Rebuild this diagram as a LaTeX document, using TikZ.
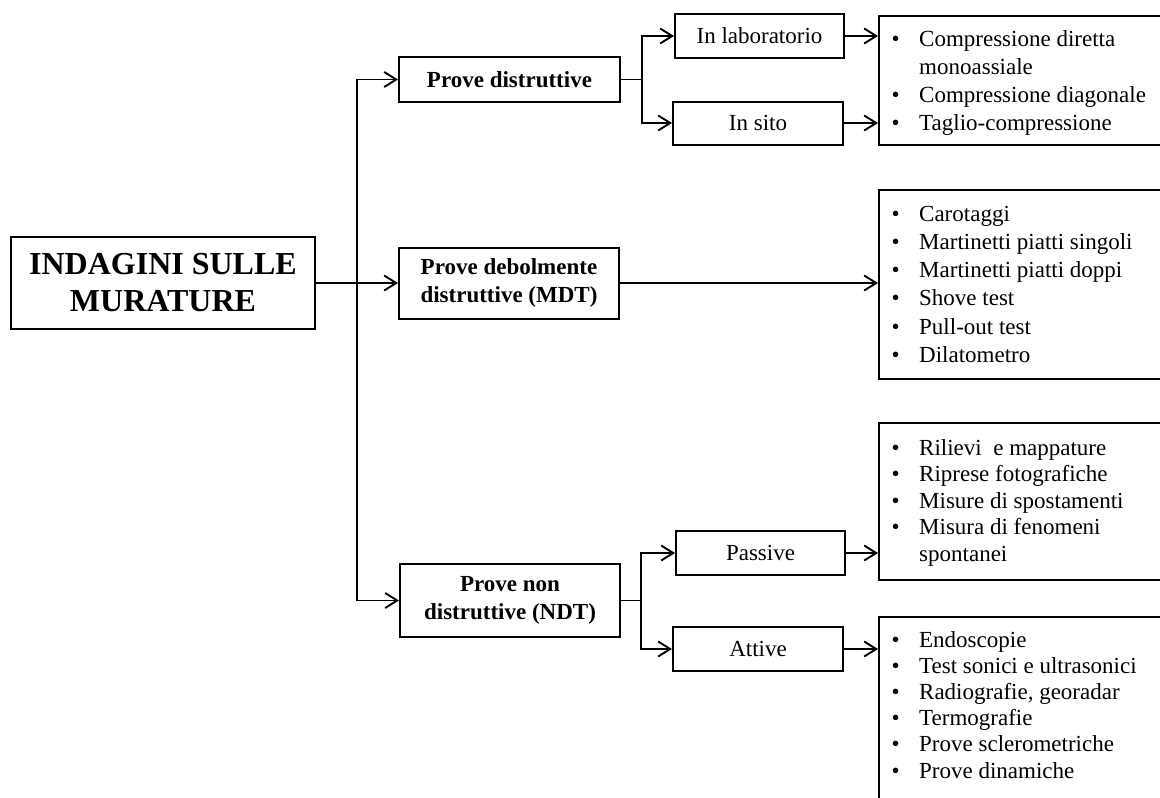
\documentclass[tikz,border=0pt]{standalone}
\usepackage{fontspec}
\setmainfont{Liberation Serif}
\usetikzlibrary{arrows.meta}

% one bulleted row of a list, and a continuation row without bullet
\newcommand{\bitem}[1]{\makebox[27.5pt][l]{\textbullet}#1}
\newcommand{\bcont}[1]{\hspace*{27.5pt}#1}

\begin{document}
\begin{tikzpicture}[x=1pt,y=-1pt,
  frame/.style={draw,line width=2pt,inner sep=0pt},
  headbox/.style={frame,line width=2.4pt,align=center,
    font=\fontsize{32}{37}\selectfont\bfseries},
  groupbox/.style={frame,align=center,font=\fontsize{23}{28}\selectfont\bfseries},
  kindbox/.style={frame,font=\fontsize{23}{28}\selectfont},
  listbox/.style={frame,anchor=north west,minimum width=320pt},
  listtext/.style={anchor=base west,inner sep=0pt},
  link/.style={line width=1.9pt},
  arr/.style={link,-{Straight Barb[length=12pt,width=15pt]}}
]
\useasboundingbox (0,0) rectangle (1160,798);

% root and first level
\node[headbox,minimum width=304pt,minimum height=92pt] (main) at (163,283)
  {INDAGINI SULLE\\MURATURE};
\node[groupbox,minimum width=221pt,minimum height=45pt] (pd) at (509.5,79.5)
  {Prove distruttive};
\node[groupbox,minimum width=220pt,minimum height=71pt] (mdt) at (509,283)
  {Prove debolmente\\distruttive (MDT)};
\node[groupbox,minimum width=220pt,minimum height=73pt] (ndt) at (510,600.5)
  {Prove non\\distruttive (NDT)};

% second level
\node[kindbox,minimum width=169pt,minimum height=44pt] (lab) at (759.5,36) {In laboratorio};
\node[kindbox,minimum width=170pt,minimum height=43pt] (sito) at (758,123) {In sito};
\node[kindbox,minimum width=169pt,minimum height=44pt] (pas) at (760.5,553) {Passive};
\node[kindbox,minimum width=170pt,minimum height=44pt] (att) at (758,649) {Attive};

% list boxes (open to the right)
\node[listbox,minimum height=129pt] (l1) at (878,15) {};
\node[listbox,minimum height=189pt] (l2) at (878,189) {};
\node[listbox,minimum height=157pt] (l3) at (878,422) {};
\node[listbox,minimum height=260pt] (l4) at (878,616) {};

\node[listtext,font=\fontsize{23}{28.3}\selectfont] (t1) at (891.5,46)
  {\begin{tabular}[t]{@{}l@{}}
   \bitem{Compressione diretta}\\
   \bcont{monoassiale}\\
   \bitem{Compressione diagonale}\\
   \bitem{Taglio-compressione}
   \end{tabular}};
\node[listtext,font=\fontsize{23}{28.3}\selectfont] (t2) at (891.5,221)
  {\begin{tabular}[t]{@{}l@{}}
   \bitem{Carotaggi}\\
   \bitem{Martinetti piatti singoli}\\
   \bitem{Martinetti piatti doppi}\\
   \bitem{Shove test}\\
   \bitem{Pull-out test}\\
   \bitem{Dilatometro}
   \end{tabular}};
\node[listtext,font=\fontsize{23}{26.5}\selectfont] (t3) at (891.5,455)
  {\begin{tabular}[t]{@{}l@{}}
   \bitem{Rilievi\ \ e mappature}\\
   \bitem{Riprese fotografiche}\\
   \bitem{Misure di spostamenti}\\
   \bitem{Misura di fenomeni}\\
   \bcont{spontanei}
   \end{tabular}};
\node[listtext,font=\fontsize{23}{26.2}\selectfont] (t4) at (891.5,647)
  {\begin{tabular}[t]{@{}l@{}}
   \bitem{Endoscopie}\\
   \bitem{Test sonici e ultrasonici}\\
   \bitem{Radiografie, georadar}\\
   \bitem{Termografie}\\
   \bitem{Prove sclerometriche}\\
   \bitem{Prove dinamiche}
   \end{tabular}};

% junction columns
\coordinate (trunk) at (357,0);
\coordinate (fork1) at (642,0);
\coordinate (fork2) at (641,0);

% root to first level
\draw[arr] (main.east) -- (mdt.west);
\draw[arr] (trunk |- ndt.west) -- (trunk |- pd.west) -- (pd.west);
\draw[arr] (trunk |- pd.west) -- (trunk |- ndt.west) -- (ndt.west);

% destructive tests
\draw[arr] (pd.east) -- (fork1 |- pd.east) -- (fork1 |- lab.west) -- (lab.west);
\draw[arr] (pd.east) -- (fork1 |- pd.east) -- (fork1 |- sito.west) -- (sito.west);
\draw[arr] (lab.east) -- (lab.east -| l1.west);
\draw[arr] (sito.east) -- (sito.east -| l1.west);

% slightly destructive tests
\draw[arr] (mdt.east) -- (mdt.east -| l2.west);

% non destructive tests
\draw[arr] (ndt.east) -- (fork2 |- ndt.east) -- (fork2 |- pas.west) -- (pas.west);
\draw[arr] (ndt.east) -- (fork2 |- ndt.east) -- (fork2 |- att.west) -- (att.west);
\draw[arr] (pas.east) -- (pas.east -| l3.west);
\draw[arr] (att.east) -- (att.east -| l4.west);
\end{tikzpicture}
\end{document}
